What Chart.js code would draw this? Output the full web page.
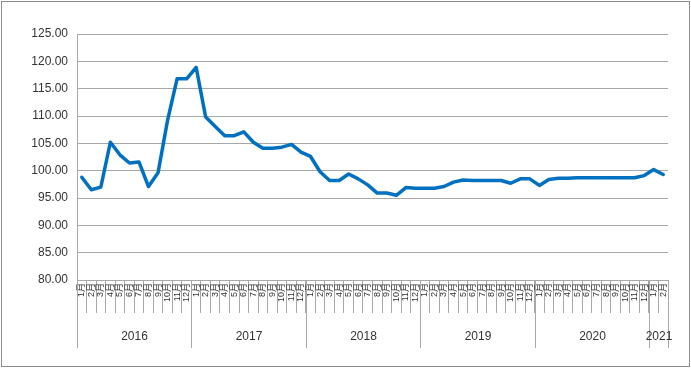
<!DOCTYPE html>
<html>
<head>
<meta charset="utf-8">
<script src="https://cdn.jsdelivr.net/npm/chart.js@4/dist/chart.umd.min.js"></script>
<style>
  body { margin: 0; background: #fff; }
  canvas { display: block; }
</style>
</head>
<body>
<canvas id="chart" width="691" height="368"></canvas>
<script>
// Years along the bottom and how many months each one has
const years = ['2016', '2017', '2018', '2019', '2020', '2021'];
const monthsInYear = [12, 12, 12, 12, 12, 2];

// Monthly index values
const values2016 = [98.8, 96.5, 97.0, 105.2, 102.9, 101.4, 101.6, 97.1, 99.6, 109.2, 116.8, 116.8];
const values2017 = [118.9, 109.8, 108.1, 106.4, 106.4, 107.1, 105.2, 104.1, 104.1, 104.3, 104.8, 103.4];
const values2018 = [102.6, 99.8, 98.2, 98.2, 99.4, 98.5, 97.4, 95.9, 95.9, 95.5, 96.9, 96.8];
const values2019 = [96.8, 96.8, 97.1, 97.9, 98.3, 98.2, 98.2, 98.2, 98.2, 97.7, 98.5, 98.5];
const values2020 = [97.3, 98.4, 98.6, 98.6, 98.7, 98.7, 98.7, 98.7, 98.7, 98.7, 98.7, 99.1];
const values2021 = [100.2, 99.3];

const yTicks = { min: 80, max: 125, step: 5 };

const labels = [];
monthsInYear.forEach(n => {
    for (let m = 1; m <= n; m++) labels.push(m + '月');
});
const values = [].concat(values2016, values2017, values2018, values2019, values2020, values2021);

const gridColor = '#a8a8a8';
const textColor = '#333333';
const fontFamily = '"Liberation Sans", "Noto Sans CJK SC", sans-serif';

// Draws the outer frame and white background
const framePlugin = {
    id: 'frame',
    beforeDraw(chart) {
        const ctx = chart.ctx;
        ctx.save();
        ctx.fillStyle = '#fff';
        ctx.fillRect(0, 0, chart.width, chart.height);
        ctx.strokeStyle = '#8c8c8c';
        ctx.lineWidth = 1;
        ctx.strokeRect(1.5, 1.5, chart.width - 3, chart.height - 3);
        ctx.restore();
    }
};

// Year group labels and their separator lines under the month labels
const yearGroupPlugin = {
    id: 'yearGroups',
    afterDraw(chart) {
        const x = chart.scales.x;
        const ctx = chart.ctx;
        const half = (x.getPixelForValue(1) - x.getPixelForValue(0)) / 2;
        const top = chart.chartArea.bottom;
        ctx.save();
        ctx.strokeStyle = gridColor;
        ctx.lineWidth = 1;
        ctx.fillStyle = textColor;
        ctx.font = '12px ' + fontFamily;
        ctx.textAlign = 'center';
        ctx.textBaseline = 'middle';
        let start = 0;
        years.forEach((year, i) => {
            const end = start + monthsInYear[i] - 1;
            const left = Math.round(x.getPixelForValue(start) - half) + 0.5;
            const right = Math.round(x.getPixelForValue(end) + half) + 0.5;
            ctx.beginPath();
            ctx.moveTo(left, top);
            ctx.lineTo(left, top + 68);
            ctx.moveTo(right, top);
            ctx.lineTo(right, top + 68);
            ctx.stroke();
            ctx.fillText(year, (left + right) / 2, top + 57);
            start = end + 1;
        });
        ctx.restore();
    }
};

new Chart(document.getElementById('chart'), {
    type: 'line',
    data: {
        labels: labels,
        datasets: [{
            data: values,
            borderColor: '#0070c0',
            borderWidth: 3.5,
            pointRadius: 0,
            tension: 0,
            borderJoinStyle: 'round',
            borderCapStyle: 'round'
        }]
    },
    options: {
        responsive: false,
        animation: false,
        layout: { padding: { left: 0, top: 34, right: 23, bottom: 0 } },
        plugins: {
            legend: { display: false },
            tooltip: { enabled: false }
        },
        scales: {
            x: {
                offset: true,
                afterFit: scale => { scale.height = 88; },
                grid: {
                    offset: true,
                    drawOnChartArea: false,
                    drawTicks: true,
                    tickLength: 33,
                    color: gridColor
                },
                border: { color: gridColor },
                ticks: {
                    autoSkip: false,
                    maxRotation: 90,
                    minRotation: 90,
                    padding: -30,
                    color: textColor,
                    font: { size: 9, family: fontFamily }
                }
            },
            y: {
                min: yTicks.min,
                max: yTicks.max,
                afterFit: scale => { scale.width = 77; },
                grid: { color: gridColor, drawTicks: false },
                border: { color: gridColor },
                ticks: {
                    stepSize: yTicks.step,
                    padding: 9,
                    color: textColor,
                    font: { size: 12, family: fontFamily },
                    callback: v => v.toFixed(2)
                }
            }
        }
    },
    plugins: [framePlugin, yearGroupPlugin]
});
</script>
</body>
</html>
